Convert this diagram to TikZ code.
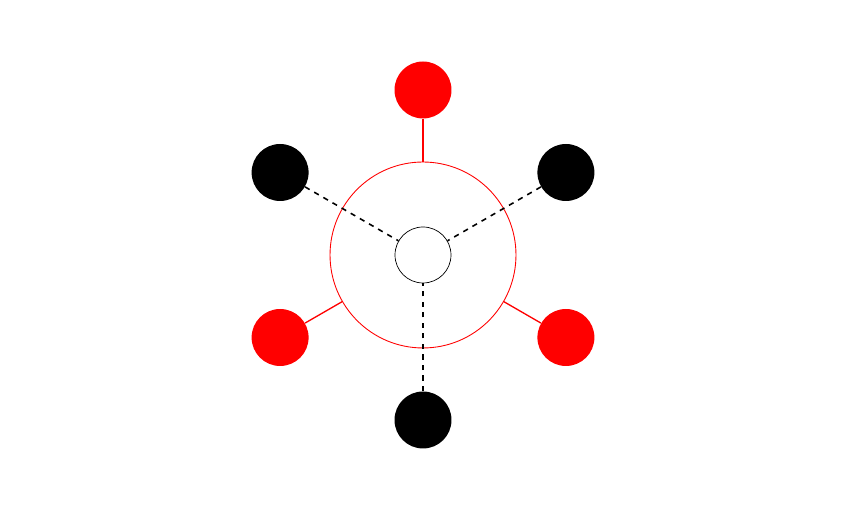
\documentclass[tikz,border=0pt]{standalone}
\usepackage{tikz}
\usetikzlibrary{arrows,shapes,calc}

\tikzset{
  hub/.style={circle,draw=black,thin,fill=white,minimum size=1.12cm,inner sep=0pt},
  ring/.style={circle,draw=red,line width=0.5pt,minimum size=3.72cm,inner sep=0pt},
  redball/.style={circle,fill=red,minimum size=1.14cm,inner sep=0pt},
  blackball/.style={circle,fill=black,minimum size=1.14cm,inner sep=0pt},
  redlink/.style={draw=red,line width=0.75pt},
  blacklink/.style={draw=black,dashed,line width=0.9pt}
}

\begin{document}
\begin{tikzpicture}[x=0.02cm,y=0.02cm]
    \useasboundingbox (0,0) rectangle (846,516);
    \coordinate (c) at (423,261);
    \node[ring] (ring) at (c) {};
    \node[hub] (hub) at (c) {};

    \node[redball] (r1) at ($(c)+(90:165)$) {};
    \node[redball] (r2) at ($(c)+(210:165)$) {};
    \node[redball] (r3) at ($(c)+(330:165)$) {};
    \node[blackball] (b1) at ($(c)+(150:165)$) {};
    \node[blackball] (b2) at ($(c)+(30:165)$) {};
    \node[blackball] (b3) at ($(c)+(270:165)$) {};

    \draw[redlink] (r1) -- (ring);
    \draw[redlink] (r2) -- (ring);
    \draw[redlink] (r3) -- (ring);
    \draw[blacklink] (b1) -- (hub);
    \draw[blacklink] (b2) -- (hub);
    \draw[blacklink] (b3) -- (hub);
\end{tikzpicture}
\end{document}
